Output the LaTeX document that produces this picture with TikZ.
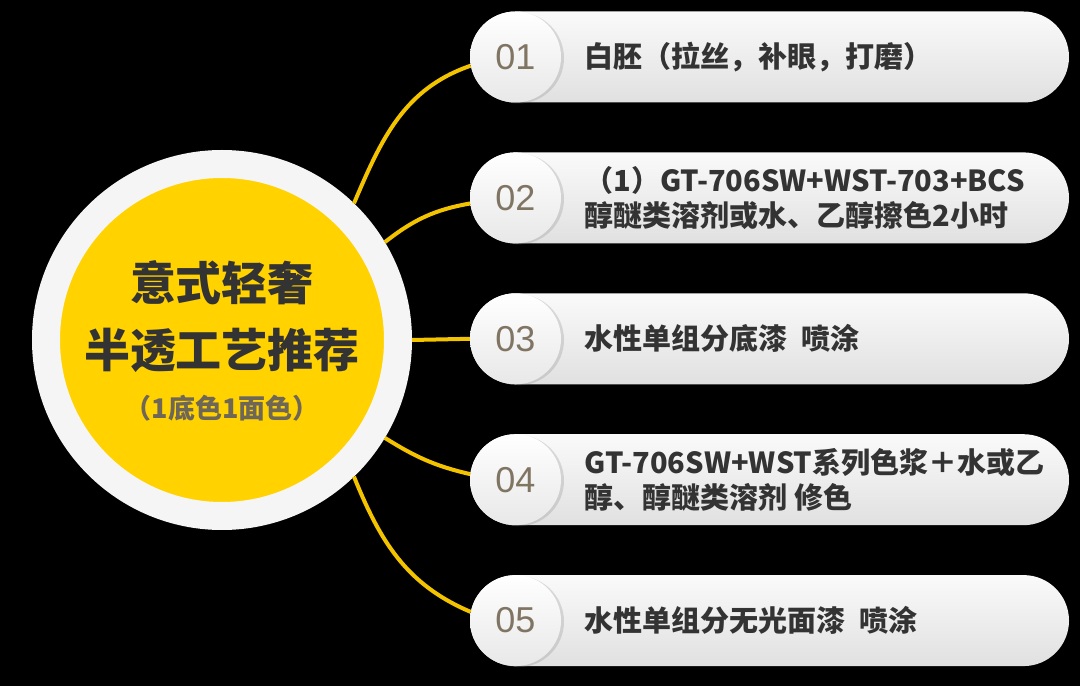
\documentclass[tikz,border=0pt]{standalone}
\usepackage{fontspec}
\usepackage{tikz}
\usetikzlibrary{positioning}
\usetikzlibrary{shadows}
\newfontfamily\cjk{Noto Sans CJK SC}
\newfontfamily\numfont{Liberation Sans}
\definecolor{gold}{HTML}{FFD200}
\definecolor{wirey}{HTML}{F4C300}
\definecolor{ink}{HTML}{333333}
\definecolor{numgray}{HTML}{807463}
\definecolor{subgray}{HTML}{6E6656}

\begin{document}
\begin{tikzpicture}[x=1pt, y=1pt,
    hubring/.style={circle, minimum size=352pt, fill=gold, draw=white!96!black, line width=28pt},
    pill/.style={rectangle, rounded corners=45.5pt, minimum width=599pt, minimum height=91pt, inner sep=0pt, top color=white!98!black, bottom color=white!88!black},
    badge/.style={circle, minimum size=91pt, inner sep=0pt, top color=white, bottom color=white!91!black, drop shadow={shadow xshift=3pt, shadow yshift=-1pt, opacity=0.25}, text=numgray, font=\numfont\fontsize{36}{36}\selectfont},
    txt/.style={inner sep=0pt, align=left, text=ink, font=\cjk\bfseries\fontsize{29}{35}\selectfont},
    wire/.style={draw=wirey, line width=4pt}]
        \fill[black] (0,0) rectangle (1080,686);
        \node[hubring] (hub) at (222,346) {};
        \node[align=center, text=ink, font=\cjk\bfseries\fontsize{46}{67}\selectfont] (ttl) at ([yshift=23.5pt]hub.center) {意式轻奢\\半透工艺推荐};
        \node[text=subgray, font=\cjk\bfseries\fontsize{27}{27}\selectfont] (sub) at ([yshift=-68pt]hub.center) {（1底色1面色）};

        \node[pill] (b1) at (769.5,629) {};
        \node[pill, below=49.5pt of b1] (b2) {};
        \node[pill, below=49.5pt of b2] (b3) {};
        \node[pill, below=49.5pt of b3] (b4) {};
        \node[pill, below=49.5pt of b4] (b5) {};

        \node[badge, right=0pt of b1.west] (n1) {01};
        \node[badge, right=0pt of b2.west] (n2) {02};
        \node[badge, right=0pt of b3.west] (n3) {03};
        \node[badge, right=0pt of b4.west] (n4) {04};
        \node[badge, right=0pt of b5.west] (n5) {05};

        \node[txt, right=23pt of n1] (t1) {白胚（拉丝，补眼，打磨）};
        \node[txt, right=23pt of n2] (t2) {（1）GT-706SW+WST-703+BCS\\醇醚类溶剂或水、乙醇擦色2小时};
        \node[txt, right=23pt of n3] (t3) {水性单组分底漆\hspace{0.5em}喷涂};
        \node[txt, right=23pt of n4] (t4) {GT-706SW+WST系列色浆＋水或乙\\醇、醇醚类溶剂 修色};
        \node[txt, right=23pt of n5] (t5) {水性单组分无光面漆\hspace{0.5em}喷涂};

        % hub to steps
        \path[wire] (hub.46) edge [out=67, in=199] (n1.191);
        \path[wire] (hub.31) edge [out=38, in=190] (n2.187);
        \path[wire] (hub.east) edge (n3.west);
        \path[wire] (hub.-31) edge [out=-32, in=167] (n4.173);
        \path[wire] (hub.-46) edge [out=-68, in=157] (n5.169);
\end{tikzpicture}
\end{document}
